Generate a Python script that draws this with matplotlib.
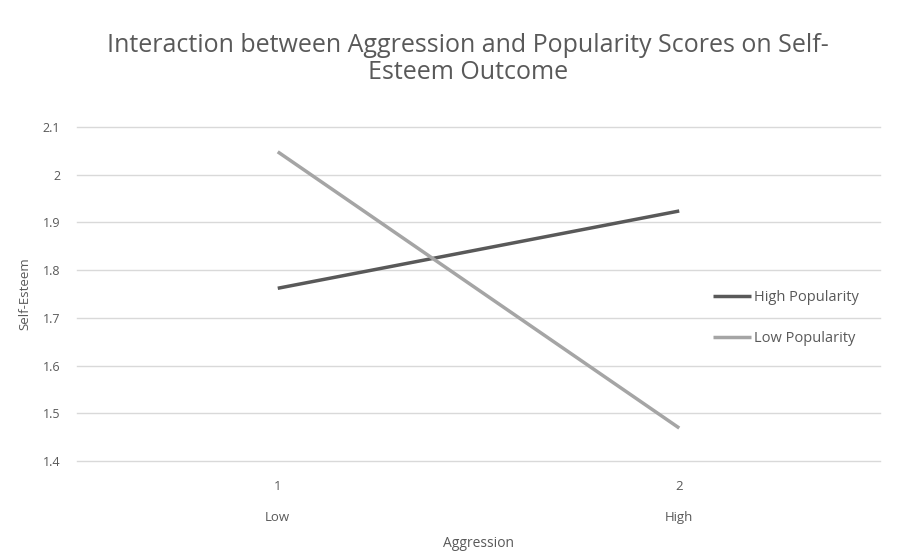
import matplotlib
matplotlib.use("Agg")
import matplotlib.pyplot as plt

categories = [1, 2]
category_labels = ["Low", "High"]
high_popularity = [1.762, 1.924]
low_popularity = [2.048, 1.469]
yticks = [1.4, 1.5, 1.6, 1.7, 1.8, 1.9, 2.0, 2.1]
ytick_labels = ["1.4", "1.5", "1.6", "1.7", "1.8", "1.9", "2", "2.1"]

txt = "#595959"
plt.rcParams['font.family'] = ['Open Sans', 'DejaVu Sans']

fig = plt.figure(figsize=(9.13, 5.57), dpi=100)
ax = fig.add_axes([77/913, 1-461/557, (880-77)/913, (461-127)/557])

ax.plot(categories, high_popularity, color="#595959", lw=2.5, label="High Popularity", solid_capstyle="butt")
ax.plot(categories, low_popularity, color="#A5A5A5", lw=2.5, label="Low Popularity", solid_capstyle="butt")

ax.set_xlim(0.5, 2.5)
ax.set_ylim(1.4, 2.1)
ax.set_yticks(yticks)
ax.set_yticklabels(ytick_labels, color=txt, fontsize=9)
ax.set_xticks(categories)
ax.set_xticklabels([f"{c}\n\n{l}" for c, l in zip(categories, category_labels)], color=txt, fontsize=9.5, linespacing=1.25)
ax.tick_params(axis='both', length=0)
ax.tick_params(axis='x', pad=14)
ax.tick_params(axis='y', pad=12)
ax.grid(axis='y', color="#D9D9D9", lw=1)
for gl in ax.get_ygridlines():
    gl.set_clip_on(False)
ax.set_axisbelow(True)
for s in ax.spines.values():
    s.set_visible(False)

ax.set_ylabel("Self-Esteem", color=txt, fontsize=9.5, labelpad=8)
ax.set_xlabel("Aggression", color=txt, fontsize=10, labelpad=8)

fig.text(468/913, 1-59/557, "Interaction between Aggression and Popularity Scores on Self-\nEsteem Outcome",
         ha="center", va="center", color=txt, fontsize=18, linespacing=1.1)

leg = ax.legend(loc="center left", bbox_to_anchor=((700-77)/803, (461-318)/334), frameon=False,
                fontsize=10.5, labelcolor=txt, handlelength=2.6, handletextpad=0.2, labelspacing=1.75)

fig.savefig("out.png", dpi=100)
